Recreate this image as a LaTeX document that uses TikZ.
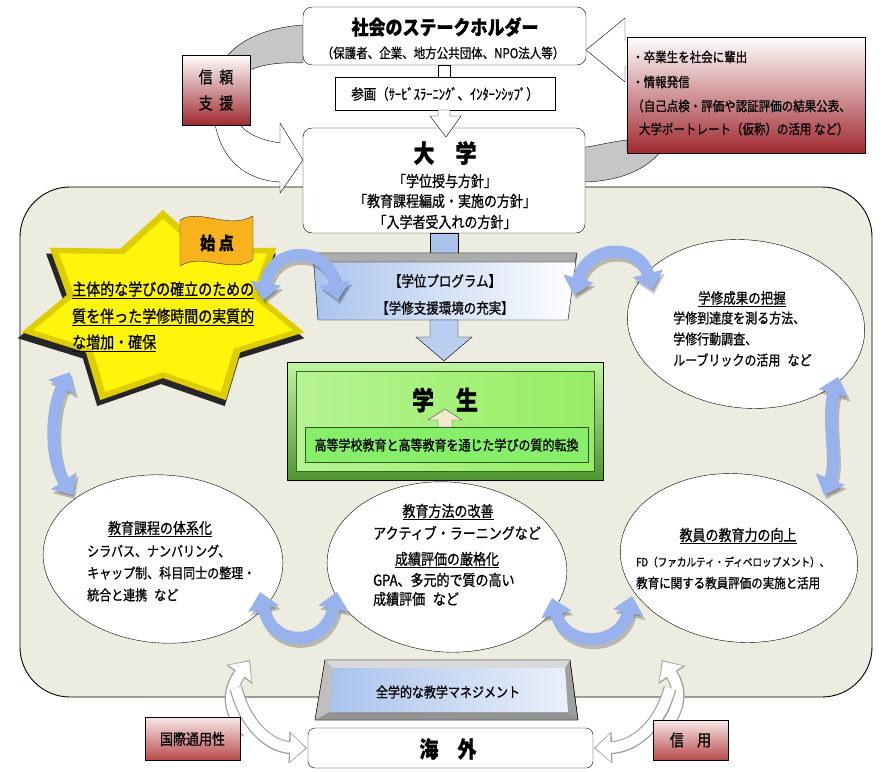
\documentclass[tikz,border=0pt]{standalone}
\usepackage{fontspec}
\setmainfont{Noto Sans CJK JP}[FakeStretch=0.85, FakeBold=0.8]
\usetikzlibrary{arrows.meta}
\definecolor{bgc}{RGB}{236,236,225}
\definecolor{arrowblue}{RGB}{152,178,238}
\definecolor{redbot}{RGB}{160,42,48}
\definecolor{redbot2}{RGB}{185,75,75}
\definecolor{pinktop}{RGB}{248,232,232}
\definecolor{starY}{RGB}{255,245,10}
\definecolor{starD}{RGB}{222,205,0}
\definecolor{bannerc}{RGB}{247,178,30}
\definecolor{blockblue}{RGB}{170,195,236}
\definecolor{gdark}{RGB}{78,150,48}
\definecolor{glight}{RGB}{150,238,100}
\definecolor{gtext}{RGB}{135,238,105}
\definecolor{beigec}{RGB}{240,235,205}
\colorlet{ellA}{black!10}
\colorlet{ellB}{black!50}
\pgfdeclareradialshading{ellshade}{\pgfpoint{-6bp}{6bp}}{color(0bp)=(white); color(30bp)=(white); color(44bp)=(ellA); color(60bp)=(ellB)}
\newcommand{\jfs}[1]{\fontsize{\fpeval{#1/0.85}}{\fpeval{#1/0.85}}\selectfont}
\tikzset{
  box/.style={draw, fill=white, rounded corners=9pt},
  redbox/.style={draw, top color=white, bottom color=redbot},
  redsmall/.style={draw, top color=pinktop, bottom color=redbot2},
  ell/.style={draw, shading=ellshade},
  bluearr/.style={draw=arrowblue, line width=12pt, {Triangle[width=30pt,length=17pt]}-{Triangle[width=30pt,length=17pt]}},
  bluesh/.style={bluearr, draw=black, opacity=0.22, xshift=2pt, yshift=-4pt},
  whout/.style={line width=13pt, draw=gray!75, -{Triangle[width=31pt,length=18pt]}},
  whin/.style={line width=10.6pt, draw=white, shorten >=1.6pt, -{Triangle[width=27pt,length=15pt]}},
  txt/.style={inner sep=0pt},
}
\newcommand{\bluedbl}[1]{\draw[bluesh] #1; \draw[bluearr] #1;}
\newcommand{\wharrow}[1]{\draw[whout] #1; \draw[whin] #1;}
\begin{document}
\begin{tikzpicture}[x=1pt,y=-1pt]
\useasboundingbox (0,0) rectangle (885,771);
\fill[white] (0,0) rectangle (885,771);

% background panel
\node[draw, fill=bgc, rounded corners=50pt, minimum width=852pt, minimum height=510pt, line width=0.9pt] (bg) at (446,442) {};

% gray bands at top
\filldraw[fill=gray!45] (227,56) .. controls (245,35) and (275,27) .. (303,25) -- (303,63) .. controls (280,62) and (262,64) .. (245,72) -- cycle;
\filldraw[fill=gray!45] (580,182) .. controls (615,182) and (645,172) .. (662,150) -- (627,150) -- (627,140) .. controls (610,142) and (595,146) .. (580,148) -- cycle;
% white arrow from trust box to university
\filldraw[fill=white] (215,124) .. controls (222,160) and (245,180) .. (280,182) -- (280,193) -- (303,160) -- (280,123) -- (280,143) .. controls (260,140) and (245,133) .. (240,124) -- cycle;
% white arrow from right box to stakeholders
\filldraw[fill=white] (628,40) -- (625,40) -- (625,18) -- (586,50) -- (625,82) -- (625,67) -- (628,67);

% stakeholder box
\node[box, minimum width=283pt, minimum height=58pt] (sh) at (444.5,36) {};
\node[txt, font={\jfs{17}\bfseries}] (shT) at (445,27) {社会のステークホルダー};
\node[txt, font={\jfs{11.5}}] (shS) at (443,53) {（保護者、企業、地方公共団体、NPO法人等）};

% connector shaft
\filldraw[fill=white] (438,65) rectangle (450,77);
% sankaku box
\node[draw, fill=white, minimum width=220pt, minimum height=33pt] (sk) at (445,93.5) {};
\node[txt, font={\jfs{12.5}}] (skT) at (445,94) {参画（ｻｰﾋﾞｽﾗｰﾆﾝｸﾞ、ｲﾝﾀｰﾝｼｯﾌﾟ）};

% trust box
\node[redbox, minimum width=68pt, minimum height=70pt] (trust) at (216,90) {};
\node[txt, font={\jfs{14}}] (tr1) at (216,77) {信\hspace{0.4em}頼};
\node[txt, font={\jfs{14}}] (tr2) at (216,103) {支\hspace{0.4em}援};

% right red box
\node[redbox, minimum width=238pt, minimum height=116pt] (info) at (746,95) {};
\node[txt, font={\jfs{11.5}}, anchor=west] (in1) at (632,57) {・卒業生を社会に輩出};
\node[txt, font={\jfs{11.5}}, anchor=west] (in2) at (632,82) {・情報発信};
\node[txt, font={\jfs{11.5}}, anchor=west] (in3) at (632,106) {（自己点検・評価や認証評価の結果公表、};
\node[txt, font={\jfs{11.5}}, anchor=west] (in4) at (632,129) {\hspace{0.5em}大学ポートレート（仮称）の活用 など）};

% university box
\node[box, minimum width=282pt, minimum height=105pt] (univ) at (444,180.5) {};
\node[txt, font={\jfs{21}\bfseries}] (uT) at (445,153) {大　学};
\node[txt, font={\jfs{13}}] (u1) at (445,181) {「学位授与方針」};
\node[txt, font={\jfs{13}}] (u2) at (445,201) {「教育課程編成・実施の方針」};
\node[txt, font={\jfs{13}}] (u3) at (445,222) {「入学者受入れの方針」};
% arrow from sankaku into university
\filldraw[fill=white] (438,110) -- (450,110) -- (450,116) -- (461,116) -- (446,137) -- (430,116) -- (438,116) -- cycle;

% shaft university -> block
\filldraw[fill=blockblue] (430,233) rectangle (458,253);
% degree program block
\path[draw, left color=blockblue, right color=white] (313,253) -- (577,253) -- (568,320) -- (318,320) -- cycle;
\filldraw[fill=gray!65] (313,253) -- (577,253) -- (575,262) -- (315,262) -- cycle;
\node[txt, font={\jfs{12.5}}] (bp1) at (445,281) {【学位プログラム】};
\node[txt, font={\jfs{12.5}}] (bp2) at (445,308) {【学修支援環境の充実】};

% student box
\path[draw, top color=glight!60!white, bottom color=gdark] (287,362) rectangle (603,480);
\path[draw=gdark!70!black, left color=glight!70!white, middle color=green!6!white, right color=glight] (296,371) rectangle (594,471);
\node[txt, font={\jfs{22}\bfseries}] (stT) at (445,400) {学　生};
\node[draw=gdark!60!black, line width=1pt, fill=gtext, minimum width=283pt, minimum height=35pt] (stB) at (446.5,444.5) {};
\node[txt, font={\jfs{12}}] (stS) at (446.5,445) {高等学校教育と高等教育を通じた学びの質的転換};
\filldraw[fill=beigec, draw=black!70] (438,427) -- (452,427) -- (452,420) -- (462,420) -- (445,409) -- (428,420) -- (438,420) -- cycle;
% block -> student arrow
\filldraw[fill=blockblue!80] (430,320) -- (458,320) -- (458,337) -- (472,337) -- (444,361) -- (416,337) -- (430,337) -- cycle;

% star
\fill[black!85] plot[variable=\k, samples at={0,1,...,13}] ({161+147*ifthenelse(mod(\k,2)==0,1,0.68)*cos(90+\k*360/14)}, {316-100*ifthenelse(mod(\k,2)==0,1,0.68)*sin(90+\k*360/14)}) -- cycle;
\fill[starD] plot[variable=\k, samples at={0,1,...,13}] ({163+145*ifthenelse(mod(\k,2)==0,1,0.68)*cos(90+\k*360/14)}, {310-100*ifthenelse(mod(\k,2)==0,1,0.68)*sin(90+\k*360/14)}) -- cycle;
\fill[starY] plot[variable=\k, samples at={0,1,...,13}] ({163+133*ifthenelse(mod(\k,2)==0,1,0.68)*cos(90+\k*360/14)}, {310-91*ifthenelse(mod(\k,2)==0,1,0.68)*sin(90+\k*360/14)}) -- cycle;
\node[txt, font={\jfs{14}}, anchor=west] (s1) at (72,290) {\underline{主体的な学びの確立のための}};
\node[txt, font={\jfs{14}}, anchor=west] (s2) at (72,317) {\underline{質を伴った学修時間の実質的}};
\node[txt, font={\jfs{14}}, anchor=west] (s3) at (72,343) {\underline{な増加・確保}};

% banner
\filldraw[fill=bannerc, draw=black!80] (180,220) .. controls (200,208) and (228,230) .. (253,216) -- (253,260) .. controls (230,274) and (202,252) .. (180,266) -- cycle;
\node[txt, font={\jfs{15}\bfseries}] (sp) at (217,243) {始\hspace{0.2em}点};

% ellipses
\path[ell, rotate around={-6:(746,324)}] (746,324) ellipse [x radius=119pt, y radius=84pt];
\node[txt, font={\jfs{12.5}}] (e1t) at (742,299) {\underline{学修成果の把握}};
\node[txt, font={\jfs{12}}, anchor=west] (e11) at (673,318) {学修到達度を測る方法、};
\node[txt, font={\jfs{12}}, anchor=west] (e12) at (673,339) {学修行動調査、};
\node[txt, font={\jfs{12}}, anchor=west] (e13) at (673,360) {ルーブリックの活用\hspace{0.5em}など};

\path[ell, rotate around={-4:(163,559)}] (163,559) ellipse [x radius=120pt, y radius=84pt];
\node[txt, font={\jfs{13}}] (e2t) at (160,529) {\underline{教育課程の体系化}};
\node[txt, font={\jfs{12}}, anchor=west] (e21) at (87,551) {シラバス、ナンバリング、};
\node[txt, font={\jfs{12}}, anchor=west] (e22) at (87,573) {キャップ制、科目同士の整理・};
\node[txt, font={\jfs{12}}, anchor=west] (e23) at (87,595) {統合と連携\hspace{0.5em}など};

\path[ell, rotate around={-4:(447,567)}] (447,567) ellipse [x radius=120pt, y radius=85pt];
\node[txt, font={\jfs{13}}] (e3t) at (448,512) {\underline{教育方法の改善}};
\node[txt, font={\jfs{13}}, anchor=west] (e31) at (373,533) {アクティブ・ラーニングなど};
\node[txt, font={\jfs{13}}] (e3u) at (447,560) {\underline{成績評価の厳格化}};
\node[txt, font={\jfs{13}}, anchor=west] (e32) at (373,580) {GPA、多元的で質の高い};
\node[txt, font={\jfs{13}}, anchor=west] (e33) at (373,599) {成績評価\hspace{0.5em}など};

\path[ell, rotate around={-6:(739,558)}] (739,558) ellipse [x radius=119pt, y radius=84pt];
\node[txt, font={\jfs{13}}] (e4t) at (738,536) {\underline{教員の教育力の向上}};
\node[txt, font={\jfs{9.6}}, anchor=west] (e41) at (636,562) {FD（ファカルティ・ディベロップメント）、};
\node[txt, font={\jfs{11.5}}, anchor=west] (e42) at (636,583) {教育に関する教員評価の実施と活用};

% blue double arrows
\bluedbl{(263,300) .. controls (272,245) and (328,245) .. (338,300)}
\bluedbl{(574,295) .. controls (588,243) and (640,243) .. (652,290)}
\bluedbl{(838,377) .. controls (826,420) and (838,460) .. (824,495)}
\bluedbl{(552,598) .. controls (565,648) and (620,648) .. (632,596)}
\bluedbl{(260,592) .. controls (272,648) and (325,648) .. (337,592)}
\bluedbl{(70,372) .. controls (50,410) and (50,460) .. (73,495)}

% bottom white cycle arrows
\wharrow{(248,732) .. controls (226,712) and (228,690) .. (250,660)}
\wharrow{(236,688) .. controls (245,725) and (270,747) .. (307,748)}
\wharrow{(656,737) .. controls (682,712) and (682,690) .. (662,660)}
\wharrow{(670,688) .. controls (660,725) and (635,747) .. (594,748)}

% management block
\filldraw[fill=gray!75] (325,660) -- (570,660) -- (578,720) -- (315,720) -- cycle;
\filldraw[fill=gray!30, draw=none] (325,660) -- (570,660) -- (565,668) -- (333,668) -- cycle;
\filldraw[fill=gray!50, draw=none] (325,660) -- (333,668) -- (330,712) -- (315,720) -- cycle;
\filldraw[fill=gray!85, draw=none] (315,720) -- (578,720) -- (568,712) -- (330,712) -- cycle;
\path[left color=blockblue, right color=blockblue!25!white] (333,668) -- (565,668) -- (568,712) -- (330,712) -- cycle;
\draw (325,660) -- (570,660) -- (578,720) -- (315,720) -- cycle;
\node[txt, font={\jfs{12}}] (mg) at (448,692) {全学的な教学マネジメント};

% overseas
\node[box, rounded corners=7pt, minimum width=285pt, minimum height=40pt] (os) at (450.5,748) {};
\node[txt, font={\jfs{19}\bfseries}] (osT) at (448,749) {海　外};

% small red boxes
\node[redsmall, minimum width=95pt, minimum height=43pt] (intl) at (192.5,738.5) {};
\node[txt, font={\jfs{13}}] (intlT) at (192.5,739) {国際通用性};
\node[redsmall, minimum width=75pt, minimum height=40pt] (cred) at (690.5,740) {};
\node[txt, font={\jfs{14}}] (credT) at (690.5,740) {信\hspace{0.8em}用};
\end{tikzpicture}
\end{document}
